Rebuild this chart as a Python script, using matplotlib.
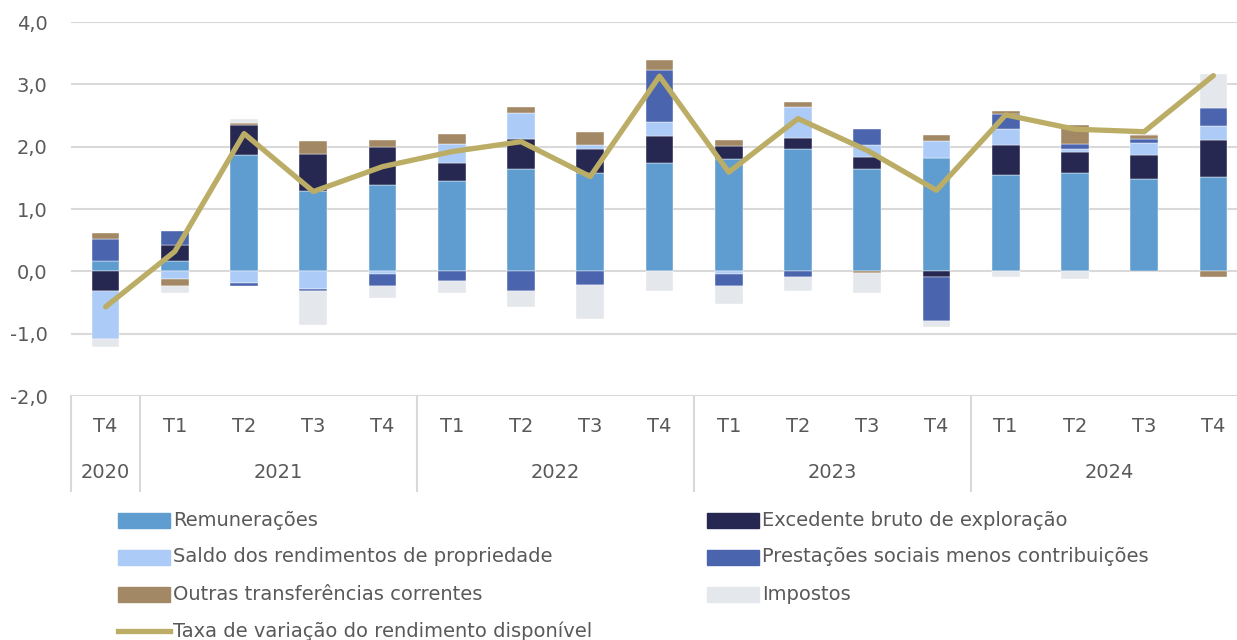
import matplotlib
matplotlib.use("Agg")
import matplotlib.pyplot as plt
import matplotlib.transforms as mtransforms
from matplotlib.patches import Rectangle
from matplotlib.lines import Line2D
import numpy as np

plt.rcParams.update({"font.family": "DejaVu Sans"})

# ---- data (p.p. contributions) ----
quarters = ["T4", "T1", "T2", "T3", "T4", "T1", "T2", "T3", "T4",
            "T1", "T2", "T3", "T4", "T1", "T2", "T3", "T4"]
years = ["2020", "2021", "2022", "2023", "2024"]
year_sizes = [1, 4, 4, 4, 4]

remuneracoes = [0.17, 0.17, 1.87, 1.29, 1.39, 1.45, 1.64, 1.58, 1.73,
                1.80, 1.96, 1.64, 1.82, 1.55, 1.57, 1.48, 1.51]
excedente = [-0.31, 0.25, 0.47, 0.60, 0.60, 0.28, 0.48, 0.38, 0.44,
             0.21, 0.18, 0.19, -0.09, 0.47, 0.35, 0.38, 0.60]
saldo = [-0.77, -0.12, -0.18, -0.28, -0.05, 0.32, 0.42, 0.06, 0.23,
         -0.05, 0.49, 0.19, 0.27, 0.26, 0.04, 0.20, 0.22]
prestacoes = [0.35, 0.23, -0.06, -0.03, -0.19, -0.15, -0.31, -0.22, 0.83,
              -0.19, -0.09, 0.26, -0.70, 0.25, 0.09, 0.06, 0.29]
outras = [0.10, -0.12, 0.04, 0.20, 0.11, 0.16, 0.10, 0.22, 0.16,
          0.10, 0.09, -0.03, 0.09, 0.04, 0.29, 0.06, -0.09]
impostos = [-0.13, -0.10, 0.07, -0.55, -0.19, -0.19, -0.26, -0.54, -0.31,
            -0.28, -0.22, -0.31, -0.10, -0.09, -0.12, 0.03, 0.55]
taxa = [-0.57, 0.32, 2.21, 1.28, 1.68, 1.92, 2.08, 1.52, 3.13,
        1.59, 2.45, 1.94, 1.30, 2.51, 2.28, 2.24, 3.14]

series = [
    ("Remunerações", remuneracoes, "#5f9dd0"),
    ("Excedente bruto de exploração", excedente, "#262851"),
    ("Saldo dos rendimentos de propriedade", saldo, "#adcbf7"),
    ("Prestações sociais menos contribuições", prestacoes, "#4a65ad"),
    ("Outras transferências correntes", outras, "#a38865"),
    ("Impostos", impostos, "#e4e7ec"),
]
line_label = "Taxa de variação do rendimento disponível"
line_color = "#bbad65"

txt = "#595959"
grid_c = "#d9d9d9"

W, H = 1237, 640
fig = plt.figure(figsize=(W / 100, H / 100), dpi=100)
ax = fig.add_axes([71 / W, (H - 396) / H, (1248 - 71) / W, (396 - 22) / H])

x = np.arange(len(quarters))
pos_bottom = np.zeros(len(x))
neg_bottom = np.zeros(len(x))
for name, vals, col in series:
    v = np.array(vals)
    bottom = np.where(v >= 0, pos_bottom, neg_bottom)
    ax.bar(x, v, bottom=bottom, width=0.4, color=col, edgecolor="white",
           linewidth=0.3, zorder=2)
    pos_bottom += np.where(v >= 0, v, 0)
    neg_bottom += np.where(v < 0, v, 0)

ax.plot(x, taxa, color=line_color, lw=3.8, solid_capstyle="round", zorder=3)

ax.set_xlim(-0.5, len(x) - 0.5)
ax.set_ylim(-2, 4)
yt = np.arange(-2, 4.1, 1)
ax.set_yticks(yt)
ax.set_yticklabels([f"{t:.1f}".replace(".", ",") for t in yt],
                   fontsize=14, color=txt)
ax.tick_params(axis="y", length=0, pad=17)
ax.set_xticks([])
ax.yaxis.grid(True, color=grid_c, lw=1.5, zorder=0)
for s in ax.spines.values():
    s.set_visible(False)

# multi-level category axis
trans = mtransforms.blended_transform_factory(ax.transData, fig.transFigure)
y_q = 1 - 426 / H
y_y = 1 - 472 / H
y_top = 1 - 396 / H
y_bot = 1 - 491 / H
for i, q in enumerate(quarters):
    ax.text(i, y_q, q, transform=trans, ha="center", va="center",
            fontsize=14, color=txt)
start = 0
for yr, n in zip(years, year_sizes):
    ax.text(start + (n - 1) / 2, y_y, yr, transform=trans, ha="center",
            va="center", fontsize=14, color=txt)
    ax.add_line(Line2D([start - 0.5, start - 0.5], [y_top, y_bot], transform=trans,
                       color=grid_c, lw=1.5, clip_on=False))
    start += n

# legend
rows_y = [520, 557, 594]
cols_x = [118, 707]
for k, (name, _, col) in enumerate(series):
    r, c = k // 2, k % 2
    yy = 1 - rows_y[r] / H
    fig.patches.append(Rectangle((cols_x[c] / W, yy - 7.5 / H), 52 / W, 15 / H,
                                 transform=fig.transFigure, color=col))
    fig.text((cols_x[c] + 55) / W, yy, name, ha="left", va="center",
             fontsize=14, color=txt)
yy = 1 - 631 / H
fig.lines.append(Line2D([118 / W, 170 / W], [yy, yy], transform=fig.transFigure,
                        color=line_color, lw=3.8))
fig.text(173 / W, yy, line_label, ha="left", va="center", fontsize=14, color=txt)

fig.savefig("out.png", dpi=100)
